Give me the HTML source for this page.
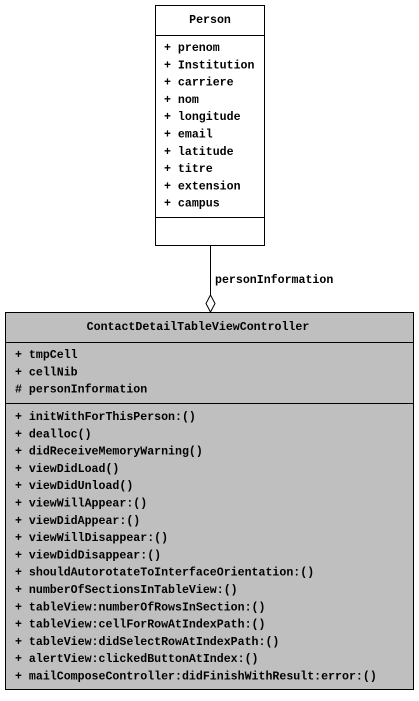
<!DOCTYPE html>
<html><head><meta charset="utf-8"><style>
html,body{margin:0;padding:0;background:#fff;}
svg text{font-family:"Liberation Mono","DejaVu Sans Mono",monospace;font-size:11.6px;font-weight:bold;fill:#000;}
</style></head><body>
<svg width="419" height="696" xmlns="http://www.w3.org/2000/svg">
<rect x="155.5" y="5.5" width="109" height="240" fill="#fff" stroke="#000"/>
<line x1="155" y1="35.5" x2="265" y2="35.5" stroke="#000"/>
<line x1="155" y1="217.5" x2="265" y2="217.5" stroke="#000"/>
<text x="210" y="23" text-anchor="middle">Person</text>
<g>
<text x="164" y="51">+ prenom</text>
<text x="164" y="68.3">+ Institution</text>
<text x="164" y="85.6">+ carriere</text>
<text x="164" y="102.9">+ nom</text>
<text x="164" y="120.2">+ longitude</text>
<text x="164" y="137.5">+ email</text>
<text x="164" y="154.8">+ latitude</text>
<text x="164" y="172.1">+ titre</text>
<text x="164" y="189.4">+ extension</text>
<text x="164" y="206.7">+ campus</text>
</g>
<line x1="210.5" y1="245" x2="210.5" y2="295" stroke="#000"/>
<polygon points="210.5,295 215,303.5 210.5,312 206,303.5" fill="#fff" stroke="#000"/>
<text x="215" y="283">personInformation</text>
<rect x="5.5" y="312.5" width="408" height="377" fill="#bfbfbf" stroke="#000"/>
<line x1="5" y1="342.5" x2="414" y2="342.5" stroke="#000"/>
<line x1="5" y1="403.5" x2="414" y2="403.5" stroke="#000"/>
<text x="198" y="330" text-anchor="middle">ContactDetailTableViewController</text>
<text x="15" y="358">+ tmpCell</text>
<text x="15" y="375.3">+ cellNib</text>
<text x="15" y="392.6">#  personInformation</text>
<text x="15" y="420">+ initWithForThisPerson:()</text>
<text x="15" y="437.3">+ dealloc()</text>
<text x="15" y="454.6">+ didReceiveMemoryWarning()</text>
<text x="15" y="471.9">+ viewDidLoad()</text>
<text x="15" y="489.2">+ viewDidUnload()</text>
<text x="15" y="506.5">+ viewWillAppear:()</text>
<text x="15" y="523.8">+ viewDidAppear:()</text>
<text x="15" y="541.1">+ viewWillDisappear:()</text>
<text x="15" y="558.4">+ viewDidDisappear:()</text>
<text x="15" y="575.7">+ shouldAutorotateToInterfaceOrientation:()</text>
<text x="15" y="593">+ numberOfSectionsInTableView:()</text>
<text x="15" y="610.3">+ tableView:numberOfRowsInSection:()</text>
<text x="15" y="627.6">+ tableView:cellForRowAtIndexPath:()</text>
<text x="15" y="644.9">+ tableView:didSelectRowAtIndexPath:()</text>
<text x="15" y="662.2">+ alertView:clickedButtonAtIndex:()</text>
<text x="15" y="679.5">+ mailComposeController:didFinishWithResult:error:()</text>
</svg>
</body></html>
